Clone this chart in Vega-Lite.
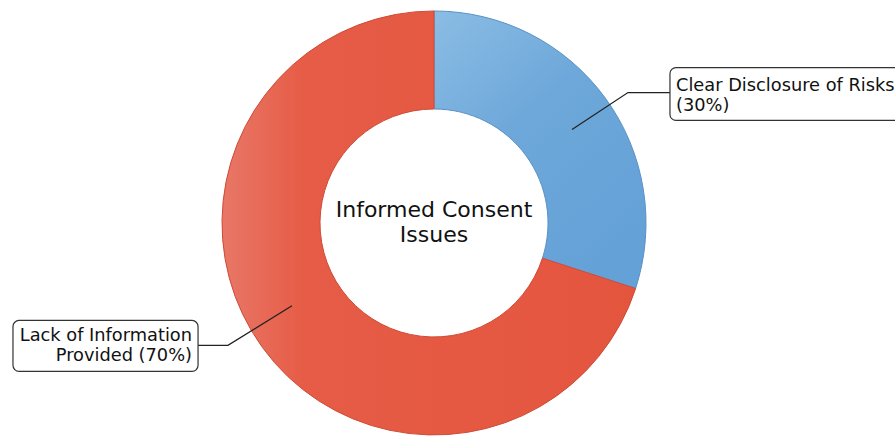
{
  "$schema": "https://vega.github.io/schema/vega-lite/v6.json",
  "width": 895,
  "height": 436,
  "autosize": {"type": "fit", "contains": "padding"},
  "padding": 0,
  "background": "#ffffff",
  "config": {"view": {"stroke": null}, "font": "DejaVu Sans"},
  "datasets": {
    "slices": [
      {"category": "Clear Disclosure of Risks", "value": 30, "order": 1},
      {"category": "Lack of Information Provided", "value": 70, "order": 2}
    ],
    "boxes": [
      {"side": "right", "x1": 1.113, "x2": 2.23, "y1": 0.736, "y2": 0.486, "tx": 1.1415, "ty": 0.627, "label": "Clear Disclosure of Risks\n(30%)"},
      {"side": "left", "x1": -1.986, "x2": -1.113, "y1": -0.462, "y2": -0.703, "tx": -1.1415, "ty": -0.561, "label": "Lack of Information\nProvided (70%)"}
    ],
    "leaders": [
      {"g": "r", "i": 1, "lx": 0.651, "ly": 0.443},
      {"g": "r", "i": 2, "lx": 0.915, "ly": 0.618},
      {"g": "r", "i": 3, "lx": 1.113, "ly": 0.618},
      {"g": "l", "i": 1, "lx": -0.67, "ly": -0.392},
      {"g": "l", "i": 2, "lx": -0.972, "ly": -0.58},
      {"g": "l", "i": 3, "lx": -1.113, "ly": -0.58}
    ],
    "center": [
      {"cx": 0, "cy": 0.028, "label": "Informed Consent\nIssues"}
    ]
  },
  "layer": [
    {
      "data": {"name": "slices"},
      "transform": [
        {"stack": "value", "groupby": [], "sort": [{"field": "order"}], "as": ["v0", "v1"]},
        {"filter": "datum.order === 1"}
      ],
      "mark": {
        "type": "arc", "outerRadius": 212, "innerRadius": 114, "filled": true,
        "fill": {"gradient": "linear", "x1": 0, "y1": 0, "x2": 0.7, "y2": 1,
          "stops": [{"offset": 0, "color": "#8bbde4"}, {"offset": 0.45, "color": "#6ea8da"}, {"offset": 1, "color": "#64a1d7"}]},
        "stroke": "#5a92c6", "strokeWidth": 1
      },
      "encoding": {
        "theta": {"field": "v0", "type": "quantitative", "scale": {"domain": [0, 100]}},
        "theta2": {"field": "v1"},
        "x": {"datum": 0, "type": "quantitative", "scale": {"domain": [-2.0472, 2.1745], "nice": false, "zero": false}, "axis": null},
        "y": {"datum": 0, "type": "quantitative", "scale": {"domain": [-1.0, 1.0566], "nice": false, "zero": false}, "axis": null}
      }
    },
    {
      "data": {"name": "slices"},
      "transform": [
        {"stack": "value", "groupby": [], "sort": [{"field": "order"}], "as": ["v0", "v1"]},
        {"filter": "datum.order === 2"}
      ],
      "mark": {
        "type": "arc", "outerRadius": 212, "innerRadius": 114, "filled": true,
        "fill": {"gradient": "linear", "x1": 0, "y1": 0, "x2": 1, "y2": 0,
          "stops": [{"offset": 0, "color": "#e87767"}, {"offset": 0.2, "color": "#e65c46"}, {"offset": 1, "color": "#e4553e"}]},
        "stroke": "#cf4b36", "strokeWidth": 1
      },
      "encoding": {
        "theta": {"field": "v0", "type": "quantitative", "scale": {"domain": [0, 100]}},
        "theta2": {"field": "v1"},
        "x": {"datum": 0, "type": "quantitative", "scale": {"domain": [-2.0472, 2.1745], "nice": false, "zero": false}, "axis": null},
        "y": {"datum": 0, "type": "quantitative", "scale": {"domain": [-1.0, 1.0566], "nice": false, "zero": false}, "axis": null}
      }
    },
    {
      "data": {"name": "leaders"},
      "mark": {"type": "line", "color": "#222222", "strokeWidth": 1.3},
      "encoding": {
        "x": {"field": "lx", "type": "quantitative", "axis": null},
        "y": {"field": "ly", "type": "quantitative", "axis": null},
        "detail": {"field": "g"},
        "order": {"field": "i"}
      }
    },
    {
      "data": {"name": "boxes"},
      "mark": {"type": "rect", "fill": "#ffffff", "stroke": "#333333", "strokeWidth": 1.2, "cornerRadius": 6, "clip": true},
      "encoding": {
        "x": {"field": "x1", "type": "quantitative", "axis": null},
        "x2": {"field": "x2"},
        "y": {"field": "y1", "type": "quantitative", "axis": null},
        "y2": {"field": "y2"}
      }
    },
    {
      "data": {"name": "boxes"},
      "transform": [{"filter": "datum.side === 'right'"}],
      "mark": {"type": "text", "align": "left", "baseline": "alphabetic", "lineBreak": "\n", "lineHeight": 20, "fontSize": 17.8, "color": "#111111"},
      "encoding": {
        "x": {"field": "tx", "type": "quantitative", "axis": null},
        "y": {"field": "ty", "type": "quantitative", "axis": null},
        "text": {"field": "label"}
      }
    },
    {
      "data": {"name": "boxes"},
      "transform": [{"filter": "datum.side === 'left'"}],
      "mark": {"type": "text", "align": "right", "baseline": "alphabetic", "lineBreak": "\n", "lineHeight": 20, "fontSize": 17.8, "color": "#111111"},
      "encoding": {
        "x": {"field": "tx", "type": "quantitative", "axis": null},
        "y": {"field": "ty", "type": "quantitative", "axis": null},
        "text": {"field": "label"}
      }
    },
    {
      "data": {"name": "center"},
      "mark": {"type": "text", "align": "center", "baseline": "alphabetic", "lineBreak": "\n", "lineHeight": 25, "fontSize": 22, "color": "#111111"},
      "encoding": {
        "x": {"field": "cx", "type": "quantitative", "axis": null},
        "y": {"field": "cy", "type": "quantitative", "axis": null},
        "text": {"field": "label"}
      }
    }
  ]
}
